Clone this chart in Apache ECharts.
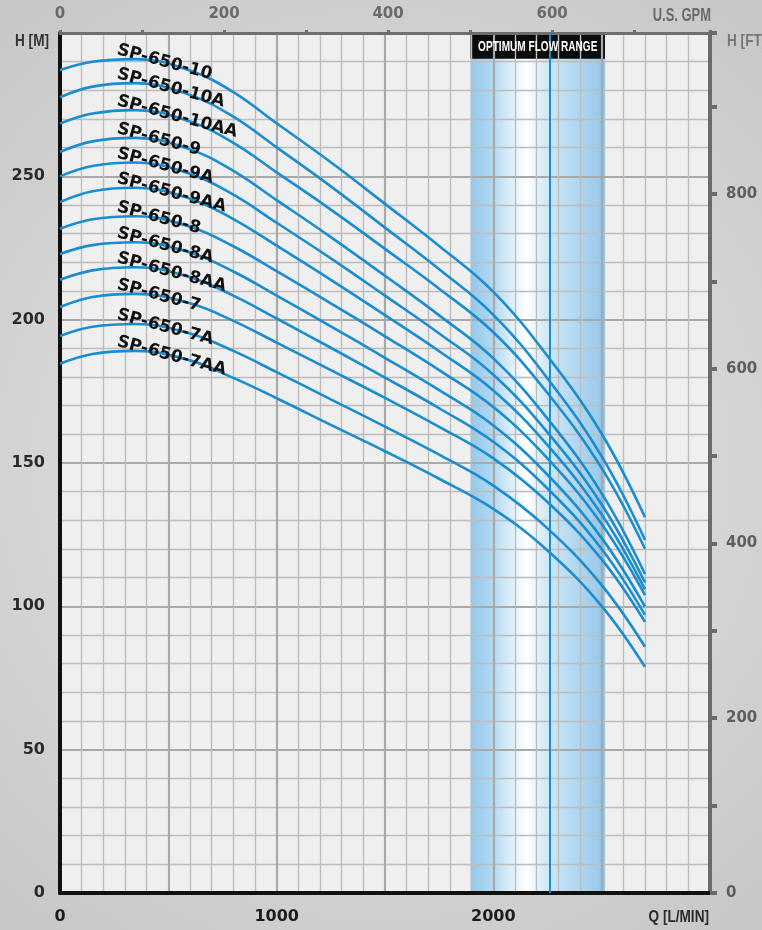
<!DOCTYPE html>
<html><head><meta charset="utf-8">
<script src="https://cdn.jsdelivr.net/npm/echarts@6/dist/echarts.min.js"></script>
<style>html,body{margin:0;padding:0;background:#d4d4d4}#c{width:762px;height:930px}</style>
</head><body><div id="c"></div>
<script>
// ---- data ----
const flowQ = [0, 150, 350, 600, 800, 1000, 1250, 1500, 1750, 2000, 2250, 2500, 2700]; // L/min
const pumpNames = ['SP-650-10','SP-650-10A','SP-650-10AA','SP-650-9','SP-650-9A','SP-650-9AA','SP-650-8','SP-650-8A','SP-650-8AA','SP-650-7','SP-650-7A','SP-650-7AA'];
const head10   = [287.1, 290.0, 290.9, 286.9, 279.4, 268.5, 254.9, 240.4, 225.7, 209.7, 187.3, 160.2, 131.1];
const head10A  = [277.6, 281.3, 282.5, 278.4, 270.8, 260.1, 246.5, 232.1, 217.6, 201.7, 179.5, 152.3, 123.2];
const head10AA = [268.4, 271.9, 273.1, 269.1, 261.7, 251.4, 238.4, 224.7, 210.8, 195.6, 174.4, 148.2, 120.1];
const head9    = [258.5, 262.2, 263.4, 259.4, 251.9, 241.7, 228.8, 215.3, 201.5, 186.5, 165.5, 139.4, 111.3];
const head9A   = [250.0, 253.6, 254.8, 250.9, 243.6, 233.8, 221.4, 208.4, 195.2, 180.8, 160.7, 135.5, 108.3];
const head9AA  = [241.0, 244.8, 246.0, 242.2, 235.1, 225.8, 213.9, 201.6, 189.0, 175.3, 156.2, 132.0, 105.9];
const head8    = [231.7, 235.0, 236.1, 232.4, 225.6, 216.9, 205.7, 194.2, 182.4, 169.5, 151.6, 128.7, 103.9];
const head8A   = [222.9, 226.0, 227.0, 223.4, 216.8, 208.4, 197.7, 186.7, 175.4, 163.1, 145.9, 123.8, 99.9];
const head8AA  = [213.9, 217.2, 218.3, 214.8, 208.4, 200.4, 190.2, 179.8, 169.1, 157.4, 141.1, 120.0, 97.0];
const head7    = [204.4, 207.9, 209.0, 205.7, 199.6, 192.0, 182.4, 172.7, 162.6, 151.6, 136.4, 116.4, 94.6];
const head7A   = [194.3, 197.5, 198.5, 195.2, 189.1, 181.7, 172.2, 162.7, 152.9, 142.1, 127.2, 107.4, 85.9];
const head7AA  = [184.6, 188.0, 189.1, 185.8, 179.7, 172.6, 163.3, 154.1, 144.5, 134.0, 119.5, 100.1, 78.9];
const optimumRange = [1895, 2515];   // L/min
const optimumCenter = [2260];        // L/min
const bottomTickLabels = [0, 1000, 2000];
const leftTickLabels = [0, 50, 100, 150, 200, 250];
const topGpmLabels = [0, 200, 400, 600];
const rightFtLabels = [0, 200, 400, 600, 800];

// ---- chart ----
const pumpHeads = [head10, head10A, head10AA, head9, head9A, head9AA, head8, head8A, head8AA, head7, head7A, head7AA];
const Q_MAX = 3000, H_MAX = 300;
const LPM_PER_GPM = 3.78541, M_PER_FT = 0.3048;
const NARROW = "'Liberation Sans',Arial,sans-serif";
const BOLD = "'DejaVu Sans',sans-serif";
const CURVE = '#1a8dcf';
const LABEL_Q = 265, LABEL_DH = 3.3, BOX_BOTTOM_H = 291;

const chart = echarts.init(document.getElementById('c'), null, {renderer: 'canvas'});

const curveSeries = pumpNames.map((name, i) => {
  const heads = pumpHeads[i];
  const peak = Math.max(...heads);
  return {
    name: name, type: 'line', xAxisIndex: 0, yAxisIndex: 0, z: 3,
    data: flowQ.map((q, j) => [q, heads[j]]),
    smooth: 0.4, showSymbol: false, symbol: 'none', silent: true,
    lineStyle: {color: CURVE, width: 2.6},
    markPoint: {
      symbol: 'circle', symbolSize: 0, silent: true,
      data: [{coord: [LABEL_Q, peak + LABEL_DH]}],
      label: {show: true, position: 'right', distance: 0, formatter: name, rotate: -15,
        color: '#111', fontFamily: BOLD, fontWeight: 'bold', fontSize: 17}
    }
  };
});

const option = {
  animation: false,
  backgroundColor: new echarts.graphic.RadialGradient(0.5, 0.5, 0.75, [
    {offset: 0, color: '#e8e8e8'}, {offset: 1, color: '#c8c8c8'}]),
  grid: {left: 60, right: 52, top: 33, bottom: 37, show: true, backgroundColor: '#efefef',
    borderWidth: 0, containLabel: false, outerBoundsMode: 'none'},
  xAxis: [
    {type: 'value', position: 'bottom', min: 0, max: Q_MAX, interval: 500, z: 2,
      axisLine: {show: true, onZero: false, lineStyle: {color: '#111', width: 4}},
      axisTick: {show: false},
      minorTick: {show: false, splitNumber: 5},
      splitLine: {show: true, lineStyle: {color: '#a9a9a9', width: 2.2}},
      minorSplitLine: {show: true, lineStyle: {color: '#bdbdbd', width: 1.4}},
      axisLabel: {margin: 16, color: '#1c1c1c', fontFamily: BOLD, fontWeight: 'bold', fontSize: 16,
        formatter: v => bottomTickLabels.includes(v) ? String(v) : ''}
    },
    {type: 'value', position: 'top', min: 0, max: Q_MAX / LPM_PER_GPM, interval: 100, z: 2,
      axisLine: {show: true, onZero: false, lineStyle: {color: '#6e6e6e', width: 3}},
      axisTick: {show: true, inside: false, length: 3, lineStyle: {color: '#6e6e6e', width: 3}},
      splitLine: {show: false},
      axisLabel: {margin: 11, color: '#6a6a6a', fontFamily: BOLD, fontWeight: 'bold', fontSize: 15,
        formatter: v => topGpmLabels.includes(v) ? String(v) : ''}
    }
  ],
  yAxis: [
    {type: 'value', position: 'left', min: 0, max: H_MAX, interval: 50, z: 2,
      axisLine: {show: true, onZero: false, lineStyle: {color: '#111', width: 4}},
      axisTick: {show: false},
      minorTick: {show: false, splitNumber: 5},
      splitLine: {show: true, lineStyle: {color: '#a9a9a9', width: 2.2}},
      minorSplitLine: {show: true, lineStyle: {color: '#bdbdbd', width: 1.4}},
      axisLabel: {margin: 15, color: '#2a2a2a', fontFamily: BOLD, fontWeight: 'bold', fontSize: 16,
        formatter: v => leftTickLabels.includes(v) ? String(v) : ''}
    },
    {type: 'value', position: 'right', min: 0, max: H_MAX / M_PER_FT, interval: 100, z: 2,
      axisLine: {show: true, onZero: false, lineStyle: {color: '#6a6a6a', width: 4}},
      axisTick: {show: true, inside: false, length: 7, lineStyle: {color: '#6a6a6a', width: 4}},
      splitLine: {show: false},
      axisLabel: {margin: 16, color: '#5e5e5e', fontFamily: BOLD, fontWeight: 'bold', fontSize: 15,
        formatter: v => rightFtLabels.includes(v) ? String(v) : ''}
    }
  ],
  series: [
    {type: 'line', xAxisIndex: 0, yAxisIndex: 0, z: 1, data: [], silent: true,
      markArea: {silent: true,
        itemStyle: {color: new echarts.graphic.LinearGradient(0, 0, 1, 0, [
          {offset: 0, color: '#95c8ea'}, {offset: 0.17, color: '#b3d9f2'},
          {offset: 0.33, color: '#e6f3fb'}, {offset: 0.42, color: '#ffffff'},
          {offset: 0.55, color: '#d3eaf8'}, {offset: 0.78, color: '#b2d8f1'},
          {offset: 0.95, color: '#9ccbeb'}, {offset: 1, color: '#8bc1e6'}])},
        data: [[{xAxis: optimumRange[0], yAxis: 0}, {xAxis: optimumRange[1], yAxis: H_MAX}]]}
    },
    {type: 'line', xAxisIndex: 0, yAxisIndex: 0, z: 4, data: [], silent: true,
      markLine: {silent: true, symbol: 'none', label: {show: false},
        lineStyle: {color: CURVE, width: 2, type: 'solid'},
        data: optimumCenter.map(q => ({xAxis: q}))}
    },
    ...curveSeries,
    {type: 'line', xAxisIndex: 0, yAxisIndex: 0, z: 5, data: [], silent: true,
      markArea: {silent: true, itemStyle: {color: '#0b0b0b'}, label: {show: false},
        data: [[{xAxis: optimumRange[0], yAxis: BOX_BOTTOM_H}, {xAxis: optimumRange[1], yAxis: H_MAX}]]}
    }
  ]
};
chart.setOption(option);

// texts placed after layout
const boxCenter = chart.convertToPixel({xAxisIndex: 0, yAxisIndex: 0},
  [(optimumRange[0] + optimumRange[1]) / 2, (BOX_BOTTOM_H + H_MAX) / 2]);
function narrowText(text, x, y, align, size, color, sx) {
  return {type: 'text', x: x, y: y, z: 20, scaleX: sx, scaleY: 1,
    style: {text: text, align: align, verticalAlign: 'middle', fill: color,
      font: 'bold ' + size + 'px ' + NARROW}};
}
chart.setOption({
  graphic: [
    narrowText('OPTIMUM FLOW RANGE', boxCenter[0], boxCenter[1] + 1, 'center', 14, '#ffffff', 0.72),
    narrowText('H [M]', 49, 41, 'right', 17, '#333333', 0.8),
    narrowText('H [FT]', 727, 41, 'left', 17, '#777777', 0.8),
    narrowText('U.S. GPM', 711, 16, 'right', 18, '#6a6a6a', 0.72),
    narrowText('Q [L/MIN]', 709, 917, 'right', 17, '#2a2a2a', 0.8)
  ]
});
</script>
</body></html>
